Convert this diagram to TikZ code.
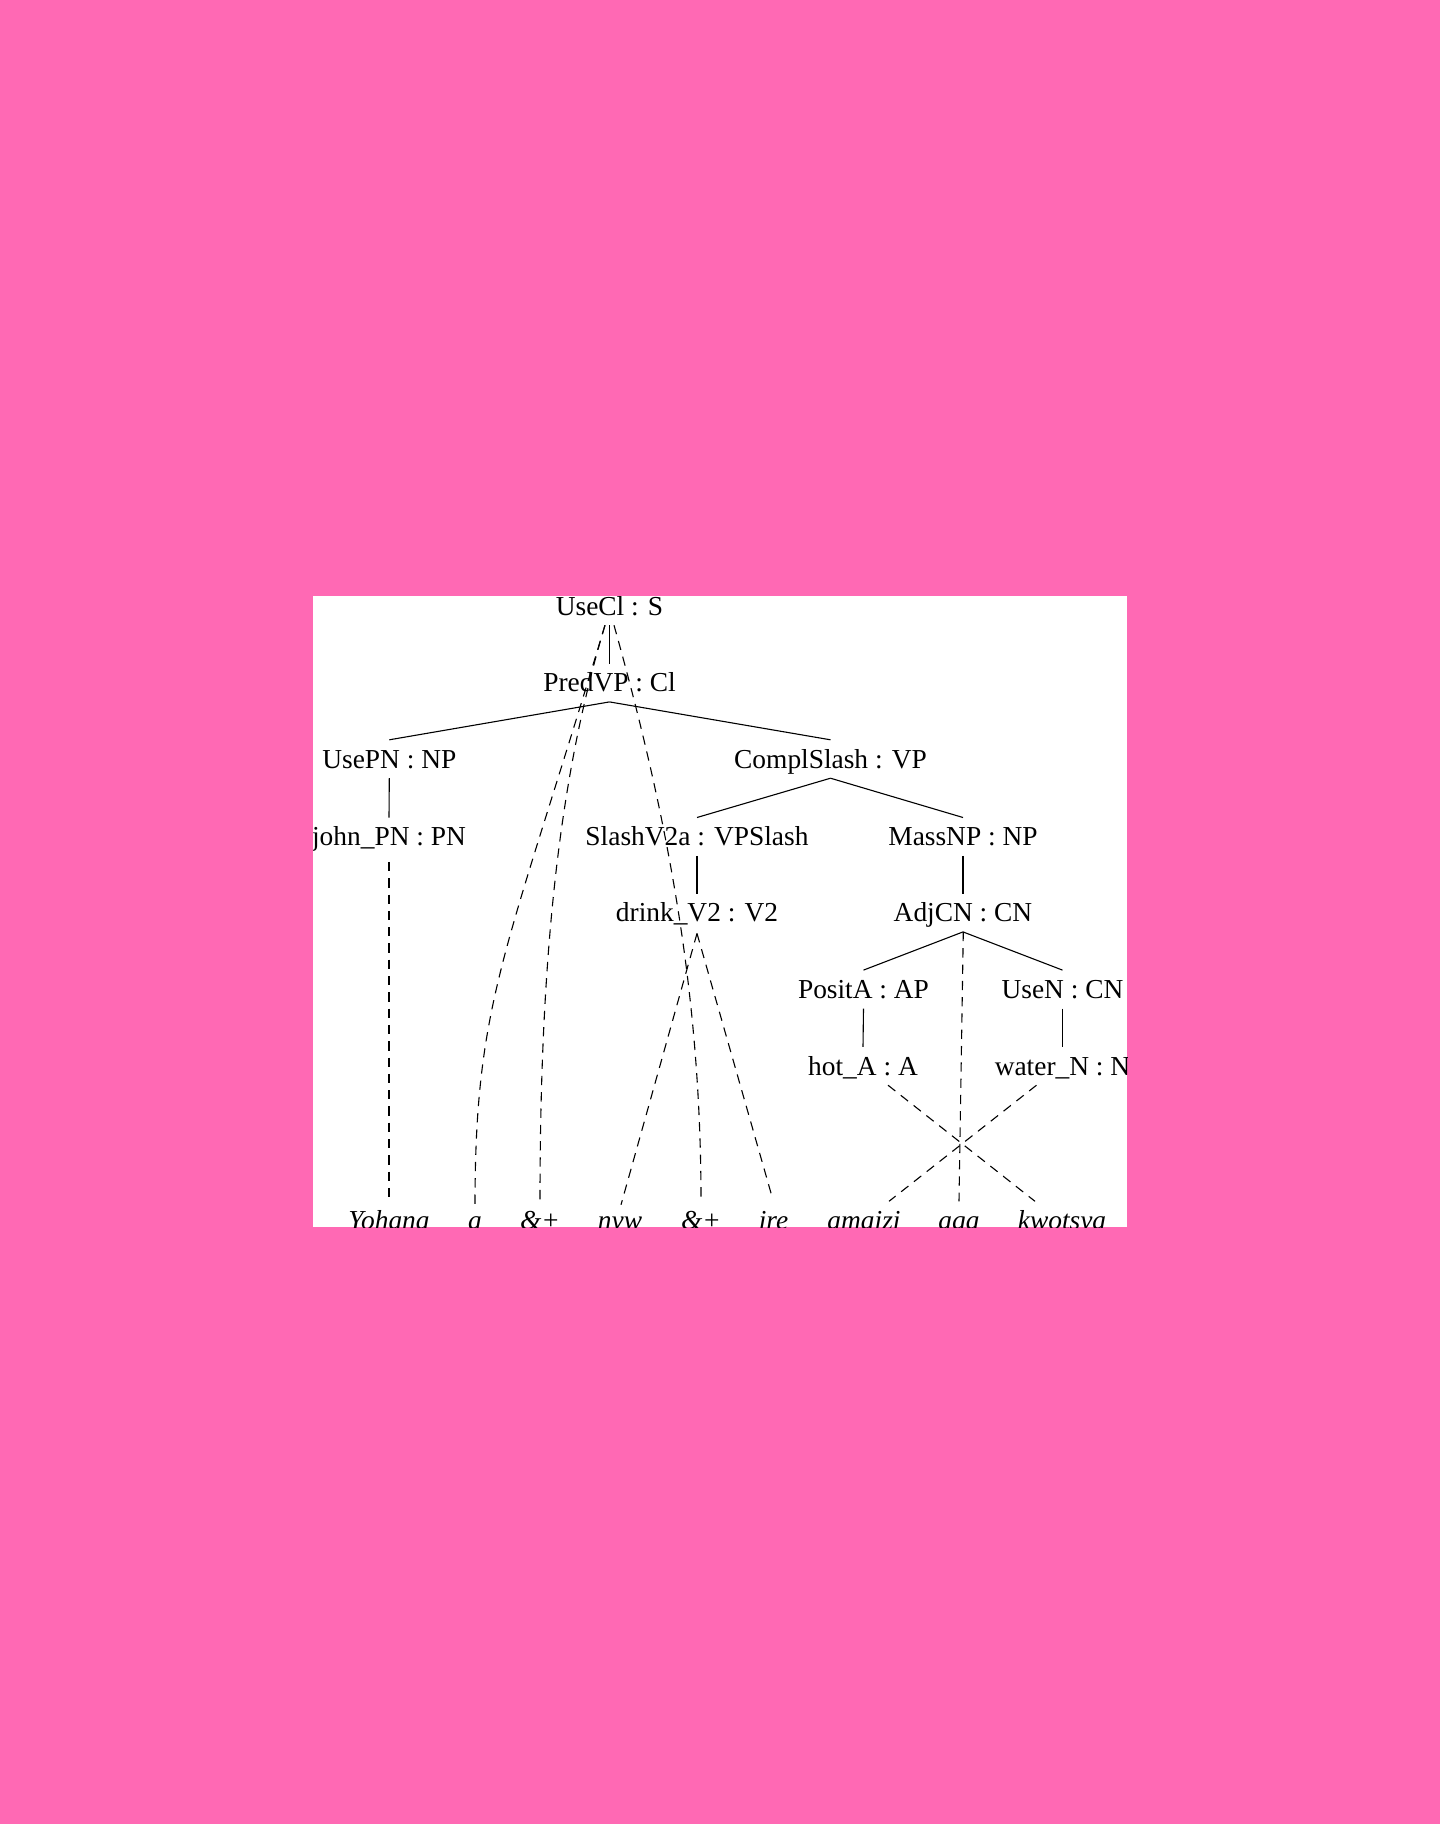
\documentclass[tikz,border=0pt]{standalone}
\usepackage{fontspec}
\setmainfont{Liberation Serif}
\definecolor{bgpink}{HTML}{FF69B4}
\begin{document}
\begin{tikzpicture}[x=1pt,y=-1pt,
  lbl/.style={anchor=base,inner xsep=0pt,inner ysep=9pt,text height=19pt,text depth=1pt,
    font=\fontsize{27.4}{33}\selectfont},
  leaf/.style={lbl,font=\fontsize{27.4}{33}\selectfont\itshape},
  edge/.style={line width=1.1pt},
  align/.style={line width=1.1pt,dash pattern=on 9.3pt off 7pt}]
\useasboundingbox (0,0) rectangle (1440,1824);
\fill[bgpink] (0,0) rectangle (1440,1824);
\fill[white] (313,596) rectangle (1127,1227);
\begin{scope}
\clip (313,596) rectangle (1127,1227);
% tree nodes
\node[lbl] (usecl) at (609.5,615) {UseCl : S};
\node[lbl] (predvp) at (609.5,691.7) {PredVP : Cl};
\node[lbl] (usepn) at (389.3,768) {UsePN : NP};
\node[lbl] (complslash) at (830.5,768) {ComplSlash : VP};
\node[lbl] (johnpn) at (389,845.7) {john\_PN : PN};
\node[lbl] (slashv2a) at (697,845.7) {SlashV2a : VPSlash};
\node[lbl] (massnp) at (963,845.7) {MassNP : NP};
\node[lbl] (drinkv2) at (697,921.7) {drink\_V2 : V2};
\node[lbl] (adjcn) at (963,921.7) {AdjCN : CN};
\node[lbl] (posita) at (863.5,998.3) {PositA : AP};
\node[lbl] (usen) at (1062.5,998.3) {UseN : CN};
\node[lbl] (hota) at (863,1075) {hot\_A : A};
\node[lbl] (watern) at (1062.5,1075) {water\_N : N};
% leaves
\node[leaf] (w1) at (389,1229.5) {Yohana};
\node[leaf] (w2) at (475,1229.5) {a};
\node[leaf] (w3) at (540,1229.5) {\&+};
\node[leaf] (w4) at (620,1229.5) {nyw};
\node[leaf] (w5) at (701,1229.5) {\&+};
\node[leaf] (w6) at (773.5,1229.5) {ire};
\node[leaf] (w7) at (864,1229.5) {amaizi};
\node[leaf] (w8) at (959,1229.5) {aga};
\node[leaf] (w9) at (1062,1229.5) {kwotsya};
% tree edges
\draw[edge] (usecl.south) -- (predvp.north);
\draw[edge] (predvp.south) -- (usepn.north);
\draw[edge] (predvp.south) -- (complslash.north);
\draw[edge] (usepn.south) -- (johnpn.north);
\draw[edge] (complslash.south) -- (slashv2a.north);
\draw[edge] (complslash.south) -- (massnp.north);
\draw[edge] (slashv2a.south) -- (drinkv2.north);
\draw[edge] (massnp.south) -- (adjcn.north);
\draw[edge] (adjcn.south) -- (posita.north);
\draw[edge] (adjcn.south) -- (usen.north);
\draw[edge] (posita.south) -- (hota.north);
\draw[edge] (usen.south) -- (watern.north);
% alignment links
\draw[align] ([yshift=-6pt]johnpn.south) -- (w1.north);
\draw[align] ([xshift=-4.5pt]usecl.south) .. controls (506,955) and (475,1000) .. ([yshift=-5pt]w2.north);
\draw[align] ([xshift=-4.5pt]usecl.south) .. controls (560,775) and (540,950) .. (w3.north);
\draw[align] ([xshift=4.5pt]usecl.south) .. controls (670,825) and (701,1000) .. (w5.north);
\draw[align] ([yshift=-1.5pt]drinkv2.south) -- ([yshift=-3.5pt,xshift=1pt]w4.north);
\draw[align] ([yshift=-1.5pt]drinkv2.south) -- ([yshift=6.5pt,xshift=-2pt]w6.north);
\draw[align] ([xshift=25pt]hota.south) -- ([xshift=-27pt]w9.north);
\draw[align] ([xshift=-26pt]watern.south) -- ([xshift=25pt]w7.north);
\draw[align] ([xshift=0.3pt]adjcn.south) -- (w8.north);
\end{scope}
\end{tikzpicture}
\end{document}
